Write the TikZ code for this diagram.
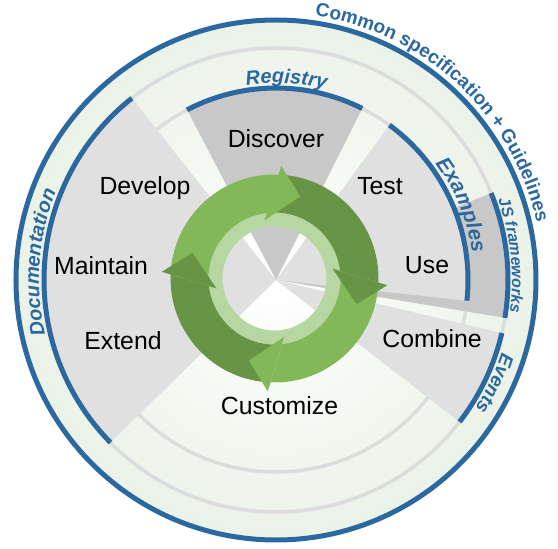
\documentclass[tikz,border=0pt]{standalone}
\usepackage{fontspec}
\setmainfont{Liberation Sans}
\usetikzlibrary{decorations.text}

\definecolor{ringblue}{RGB}{44,104,160}
\definecolor{bggreen}{RGB}{214,229,206}
\definecolor{trackgray}{RGB}{220,220,220}
\definecolor{sectlight}{RGB}{224,224,224}
\definecolor{sectdark}{RGB}{200,200,200}
\definecolor{arrowlight}{RGB}{131,184,88}
\definecolor{arrowdark}{RGB}{103,148,69}
\definecolor{ringpale}{RGB}{182,214,162}

\pgfdeclareradialshading{bgshade}{\pgfpoint{0bp}{0bp}}{color(0bp)=(white); color(50bp)=(bggreen)}

\tikzset{
  track/.style={draw=trackgray, line width=3.5},
  bluearc/.style={draw=ringblue, line width=5},
  lbl/.style={anchor=base, inner sep=0pt, font=\fontsize{24.8}{29}\selectfont},
  arclabel/.style={decorate, decoration={text along path, text align=center, text color=ringblue}}
}

\begin{document}
\begin{tikzpicture}[x=1pt, y=1pt]
    \useasboundingbox (-276,-269) rectangle (282,280);
    \shade[shading=bgshade] (0,0) circle[radius=260];
    \draw[track] (0,0) circle[radius=232];
    \draw[track] (0,0) circle[radius=192];
    \fill[sectlight] (0,0) -- (128.4:232) arc[start angle=128.4, end angle=224.5, radius=232] -- cycle;
    \fill[sectdark] (0,0) -- (63.3:192) arc[start angle=63.3, end angle=117.6, radius=192] -- cycle;
    \fill[sectdark] (0,0) -- (-9.4:232) arc[start angle=-9.4, end angle=22, radius=232] -- cycle;
    \fill[sectlight] (0,0) -- (-6.2:192) arc[start angle=-6.2, end angle=53.8, radius=192] -- cycle;
    \fill[sectlight] (0,0) -- (-37.7:232) arc[start angle=-37.7, end angle=-13.2, radius=232] -- cycle;
    \draw[bluearc] (0,0) circle[radius=260];
    \draw[bluearc] (128.4:232) arc[start angle=128.4, end angle=224.5, radius=232];
    \draw[bluearc] (63.3:192) arc[start angle=63.3, end angle=117.6, radius=192];
    \draw[bluearc] (-6.2:192) arc[start angle=-6.2, end angle=53.8, radius=192];
    \draw[bluearc] (-9.4:232) arc[start angle=-9.4, end angle=22, radius=232];
    \draw[bluearc] (-37.7:232) arc[start angle=-37.7, end angle=-13.2, radius=232];
    \begin{scope}[shift={(-1.5,1.5)}]
        \fill[ringpale, even odd rule] (0,0) circle[radius=66] (0,0) circle[radius=52];
        \fill[arrowlight] (175.6:104) arc[start angle=175.6, end angle=87.8, radius=104] -- (96.6:66) arc[start angle=96.6, end angle=184.4, radius=66] -- cycle;
        \fill[arrowdark] (85.6:104) arc[start angle=85.6, end angle=-2.2, radius=104] -- (6.6:66) arc[start angle=6.6, end angle=94.4, radius=66] -- cycle;
        \fill[arrowlight] (-4.4:104) arc[start angle=-4.4, end angle=-92.2, radius=104] -- (-83.4:66) arc[start angle=-83.4, end angle=4.4, radius=66] -- cycle;
        \fill[arrowdark] (265.6:104) arc[start angle=265.6, end angle=177.8, radius=104] -- (186.6:66) arc[start angle=186.6, end angle=274.4, radius=66] -- cycle;
        \fill[arrowlight] (86.6:113) -- (72.6:86) -- (99.6:59) -- cycle;
        \fill[arrowdark] (-3.4:113) -- (-17.4:86) -- (9.6:59) -- cycle;
        \fill[arrowlight] (-93.4:113) -- (-107.4:86) -- (-80.4:59) -- cycle;
        \fill[arrowdark] (176.6:113) -- (162.6:86) -- (189.6:59) -- cycle;
    \end{scope}
    \node[lbl] (discover) at (0,132) {Discover};
    \node[lbl] (develop) at (-131,85) {Develop};
    \node[lbl] (test) at (104,85) {Test};
    \node[lbl] (maintain) at (-175,5) {Maintain};
    \node[lbl] (use) at (151,6) {Use};
    \node[lbl] (extend) at (-153,-70) {Extend};
    \node[lbl] (combine) at (156,-68) {Combine};
    \node[lbl] (customize) at (3.5,-135) {Customize};
    \path[arclabel, decoration={text={|\bfseries\fontsize{19}{19}\selectfont|Common specification + Guidelines}}] (100:267) arc[start angle=100, end angle=-6, radius=267];
    \path[arclabel, decoration={text={|\bfseries\itshape\fontsize{20}{20}\selectfont|Registry}}] (117:197) arc[start angle=117, end angle=57, radius=197];
    \path[arclabel, decoration={text={|\bfseries\itshape\fontsize{21}{21}\selectfont|Examples}}] (52:198) arc[start angle=52, end angle=-8, radius=198];
    \path[arclabel, decoration={text={|\bfseries\itshape\fontsize{16}{16}\selectfont|JS frameworks}}] (36:236) arc[start angle=36, end angle=-24, radius=236];
    \path[arclabel, decoration={text={|\bfseries\itshape\fontsize{19}{19}\selectfont|Events}}] (4.7:237) arc[start angle=4.7, end angle=-55.3, radius=237];
    \path[arclabel, decoration={text={|\bfseries\itshape\fontsize{20}{20}\selectfont|Documentation}}] (215.7:237) arc[start angle=215.7, end angle=135.7, radius=237];
\end{tikzpicture}
\end{document}
